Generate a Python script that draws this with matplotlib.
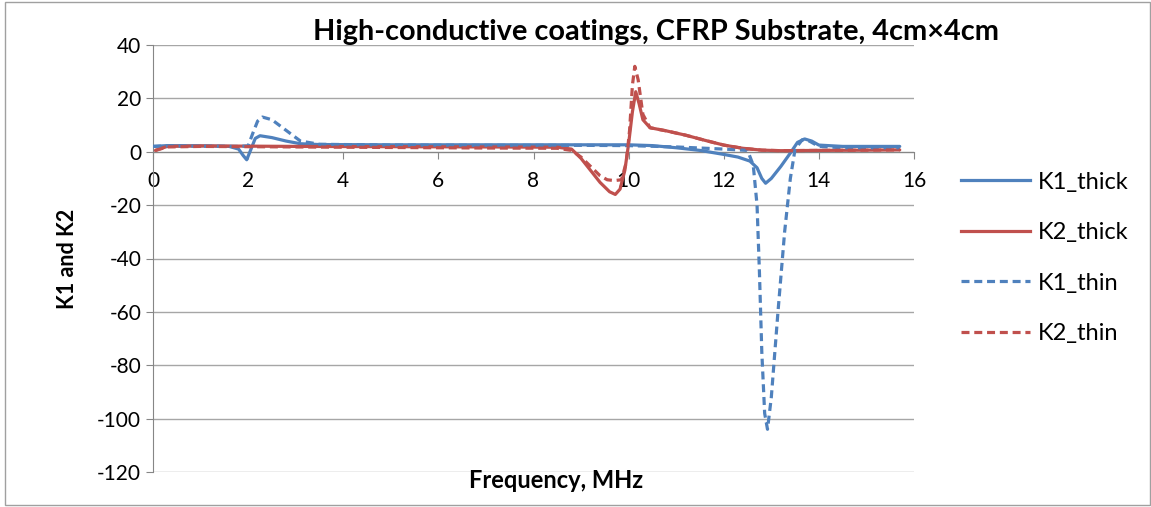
import numpy as np
import matplotlib.pyplot as plt
from matplotlib.lines import Line2D
from matplotlib.patches import Rectangle

plt.rcParams['font.family'] = ['Lato', 'DejaVu Sans']
plt.rcParams['axes.unicode_minus'] = False

# K1_thick (solid blue)
k1_thick_f = [0.0, 0.3, 1.0, 1.6, 1.8, 1.9, 1.97, 2.05, 2.15, 2.25, 2.5, 2.8, 3.1, 3.5, 5.0, 7.0, 9.0,
              10.0, 10.5, 11.0, 11.5, 12.0, 12.3, 12.55, 12.7, 12.8, 12.88, 13.0, 13.2, 13.4, 13.55,
              13.7, 13.85, 14.0, 14.5, 15.0, 15.7]
k1_thick_v = [2.0, 2.3, 2.2, 2.0, 1.0, -1.5, -3.0, 0.5, 5.0, 6.0, 5.3, 4.0, 3.0, 2.7, 2.6, 2.6, 2.6,
              2.6, 2.3, 1.5, 0.5, -1.0, -2.0, -3.5, -6.0, -10.0, -11.8, -10.0, -5.5, -0.5, 3.5,
              4.8, 4.0, 2.5, 2.0, 2.0, 2.0]

# K2_thick (solid red)
k2_thick_f = [0.05, 0.3, 1.0, 3.0, 5.0, 7.0, 8.5, 8.8, 9.0, 9.2, 9.4, 9.6, 9.72, 9.82, 9.92, 10.0,
              10.08, 10.15, 10.22, 10.3, 10.45, 10.8, 11.2, 11.6, 12.0, 12.4, 12.8, 13.2, 14.0,
              15.0, 15.7]
k2_thick_v = [0.5, 2.0, 2.2, 2.0, 1.9, 1.8, 1.7, 1.0, -2.5, -7.0, -11.5, -15.0, -16.0, -14.0, -7.0, 3.0,
              15.0, 22.5, 18.0, 12.0, 9.0, 7.8, 6.2, 4.3, 2.5, 1.3, 0.6, 0.4, 0.5, 0.6, 0.7]

# K1_thin (dashed blue)
k1_thin_f = [0.0, 0.3, 1.0, 1.8, 2.0, 2.1, 2.2, 2.3, 2.5, 2.8, 3.1, 3.5, 5.0, 7.0, 9.0, 10.0, 11.0,
             12.0, 12.5, 12.62, 12.7, 12.75, 12.8, 12.86, 12.92, 13.0, 13.14, 13.28, 13.4, 13.5,
             13.65, 13.8, 14.0, 14.5, 15.0, 15.7]
k1_thin_v = [2.0, 2.2, 2.1, 2.0, 2.2, 7.0, 11.5, 13.0, 12.0, 8.0, 4.0, 2.8, 2.5, 2.4, 2.4, 2.3, 1.8,
             1.0, 0.5, -5.0, -20.0, -45.0, -75.0, -98.0, -104.0, -92.0, -60.0, -30.0, -10.0, 1.0,
             4.5, 4.0, 2.0, 1.5, 1.5, 1.5]

# K2_thin (dashed red)
k2_thin_f = [0.05, 0.3, 1.0, 3.0, 5.0, 7.0, 8.5, 8.8, 9.0, 9.2, 9.4, 9.55, 9.7, 9.85, 9.95, 10.02,
             10.08, 10.13, 10.2, 10.3, 10.45, 10.8, 11.2, 11.6, 12.0, 12.4, 12.8, 13.2, 14.0,
             15.0, 15.7]
k2_thin_v = [0.5, 1.8, 2.0, 1.8, 1.6, 1.4, 1.3, 0.5, -2.0, -5.5, -9.0, -10.5, -10.8, -10.5, -4.0, 8.0,
             25.0, 32.0, 27.0, 14.0, 9.0, 7.8, 6.2, 4.3, 2.5, 1.3, 0.6, 0.4, 0.5, 0.6, 0.7]

BLUE = '#4F81BD'
RED = '#C0504D'
DASH = (0, (2.5, 1.5))

fig = plt.figure(figsize=(11.51, 5.07), dpi=100)
ax = fig.add_axes([153 / 1151, 1 - 472 / 507, (914 - 153) / 1151, (472 - 45) / 507])

lw = 2.3
ax.plot(k1_thick_f, k1_thick_v, color=BLUE, lw=lw, solid_capstyle='round', zorder=3)
ax.plot(k2_thick_f, k2_thick_v, color=RED, lw=lw, solid_capstyle='round', zorder=3)
ax.plot(k1_thin_f, k1_thin_v, color=BLUE, lw=lw, ls=DASH, zorder=3)
ax.plot(k2_thin_f, k2_thin_v, color=RED, lw=lw, ls=DASH, zorder=3)

ax.set_xlim(0, 16)
ax.set_ylim(-120, 40)
ax.set_xticks(np.arange(0, 17, 2))
ax.set_yticks(np.arange(-120, 41, 20))
ax.yaxis.grid(True, color='#A6A6A6', lw=1.0)
ax.set_axisbelow(True)

for s in ['top', 'right']:
    ax.spines[s].set_visible(False)
ax.spines['bottom'].set_position(('data', 0))
ax.spines['bottom'].set_color('#868686')
ax.spines['left'].set_color('#868686')
ax.tick_params(axis='both', colors='#868686', labelcolor='black', labelsize=15, length=5)
ax.tick_params(axis='x', pad=9)

ax.set_ylabel('K1 and K2', fontsize=15.5, fontweight='bold', labelpad=14)
fig.text(556 / 1151, 1 - 481 / 507, 'Frequency, MHz', fontsize=17, fontweight='bold',
         ha='center', va='center')
fig.text(656 / 1151, 1 - 32 / 507, 'High-conductive coatings, CFRP Substrate, 4cm×4cm',
         fontsize=20.8, fontweight='bold', ha='center', va='center')

handles = [Line2D([], [], color=BLUE, lw=lw),
           Line2D([], [], color=RED, lw=lw),
           Line2D([], [], color=BLUE, lw=lw, ls=DASH),
           Line2D([], [], color=RED, lw=lw, ls=DASH)]
labels = ['K1_thick', 'K2_thick', 'K1_thin', 'K2_thin']
fig.legend(handles, labels, loc='center left', bbox_to_anchor=(940 / 1151, 1 - 258 / 507),
           frameon=False, fontsize=17, handlelength=2.9, labelspacing=1.25, handletextpad=0.35)

fig.patches.append(Rectangle((5 / 1151, 2 / 507), 1 - 6 / 1151, 1 - 4 / 507,
                             transform=fig.transFigure, fill=False, edgecolor='#A0A0A0', lw=1))

fig.savefig('out.png', dpi=100)
